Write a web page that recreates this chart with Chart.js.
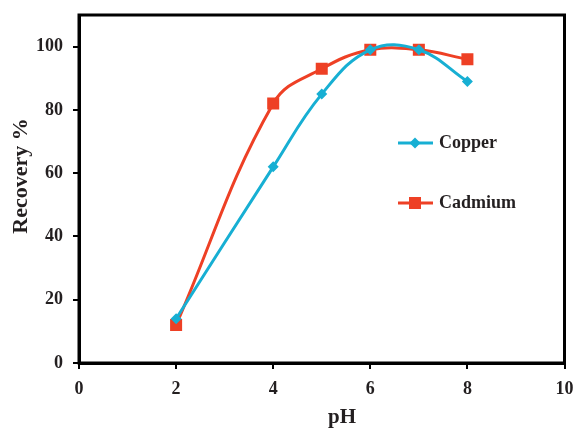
<!DOCTYPE html>
<html>
<head>
<meta charset="utf-8">
<script src="https://cdn.jsdelivr.net/npm/chart.js@4"></script>
<style>
  html, body { margin: 0; padding: 0; background: #fff; }
  #wrap { width: 573px; height: 431px; }
</style>
</head>
<body>
<div id="wrap"><canvas id="phChart" width="573" height="431"></canvas></div>
<script>
// data
var phValues = [2, 4, 5, 6, 7, 8];
var copperRecovery = [14, 62, 85, 99, 99, 89];
var cadmiumRecovery = [12, 82, 93, 99, 99, 96];
var seriesNames = ["Copper", "Cadmium"];
var xTicks = [0, 2, 4, 6, 8, 10];
var yTicks = [0, 20, 40, 60, 80, 100];
var xTitle = "pH";
var yTitle = "Recovery %";

var copperColor = "#17afd3";
var cadmiumColor = "#ee4025";
var inkColor = "#231f20";
var serif = "'Liberation Serif', 'Times New Roman', serif";

function toPoints(xs, ys) {
  return xs.map(function (x, i) { return { x: x, y: ys[i] }; });
}

// frame round the plot, axis titles and legend inside it
var framePlugin = {
  id: "frame",
  afterDraw: function (chart) {
    var ctx = chart.ctx, a = chart.chartArea;
    ctx.save();
    ctx.strokeStyle = "#000";
    ctx.lineWidth = 3;
    ctx.strokeRect(a.left, a.top, a.right - a.left, a.bottom - a.top);

    ctx.fillStyle = inkColor;
    ctx.font = "bold 21px " + serif;
    ctx.textAlign = "center";
    ctx.textBaseline = "middle";
    ctx.fillText(xTitle, 342, 418);
    ctx.save();
    ctx.translate(21, 176);
    ctx.rotate(-Math.PI / 2);
    ctx.font = "bold 22px " + serif;
    ctx.fillText(yTitle, 0, 0);
    ctx.restore();

    // legend
    var lx = 398, ly = [143, 203];
    chart.data.datasets.forEach(function (ds, i) {
      var y = ly[i];
      ctx.strokeStyle = ds.borderColor;
      ctx.lineWidth = 3;
      ctx.beginPath();
      ctx.moveTo(lx, y);
      ctx.lineTo(lx + 35, y);
      ctx.stroke();
      ctx.fillStyle = ds.backgroundColor;
      var cx = lx + 17;
      if (ds.pointStyle === "rectRot") {
        ctx.beginPath();
        ctx.moveTo(cx, y - 5.5);
        ctx.lineTo(cx + 5.5, y);
        ctx.lineTo(cx, y + 5.5);
        ctx.lineTo(cx - 5.5, y);
        ctx.closePath();
        ctx.fill();
      } else {
        ctx.fillRect(cx - 6, y - 6, 12, 12);
      }
      ctx.fillStyle = inkColor;
      ctx.font = "bold 18px " + serif;
      ctx.textBaseline = "middle";
      ctx.textAlign = "left";
      ctx.fillText(ds.label, lx + 41, y);
    });
    ctx.restore();
  }
};

new Chart("phChart", {
  type: "line",
  data: {
    datasets: [{
      label: seriesNames[0],
      data: toPoints(phValues, copperRecovery),
      borderColor: copperColor,
      backgroundColor: copperColor,
      borderWidth: 3,
      pointStyle: "rectRot",
      pointRadius: 5.5,
      pointBorderWidth: 0,
      tension: 0.4
    }, {
      label: seriesNames[1],
      data: toPoints(phValues, cadmiumRecovery),
      borderColor: cadmiumColor,
      backgroundColor: cadmiumColor,
      borderWidth: 3,
      pointStyle: "rect",
      pointRadius: 8.5,
      pointBorderWidth: 0,
      tension: 0.4
    }]
  },
  options: {
    responsive: false,
    animation: false,
    layout: { padding: { top: 15, right: 3, left: 0, bottom: 0 } },
    plugins: {
      legend: { display: false },
      tooltip: { enabled: false }
    },
    scales: {
      x: {
        type: "linear",
        min: 0,
        max: 10,
        afterBuildTicks: function (scale) {
          scale.ticks = xTicks.map(function (v) { return { value: v }; });
        },
        grid: { drawOnChartArea: false, drawTicks: true, tickLength: 6, color: "#000", lineWidth: 2 },
        border: { display: true, color: "#000", width: 3 },
        ticks: { color: inkColor, font: { family: serif, size: 18, weight: "bold" }, padding: 10 },
        afterFit: function (scale) {
          scale.height = 68;
          scale.paddingLeft = 0;
          scale.paddingRight = 8;
        }
      },
      y: {
        type: "linear",
        min: 0,
        max: 110,
        afterBuildTicks: function (scale) {
          scale.ticks = yTicks.map(function (v) { return { value: v }; });
        },
        grid: { drawOnChartArea: false, drawTicks: true, tickLength: 6, color: "#000", lineWidth: 2 },
        border: { display: true, color: "#000", width: 3 },
        ticks: { color: inkColor, font: { family: serif, size: 18, weight: "bold" }, padding: 10 },
        afterFit: function (scale) {
          scale.width = 79;
          scale.paddingTop = 0;
          scale.paddingBottom = 0;
        }
      }
    }
  },
  plugins: [framePlugin]
});
</script>
</body>
</html>
